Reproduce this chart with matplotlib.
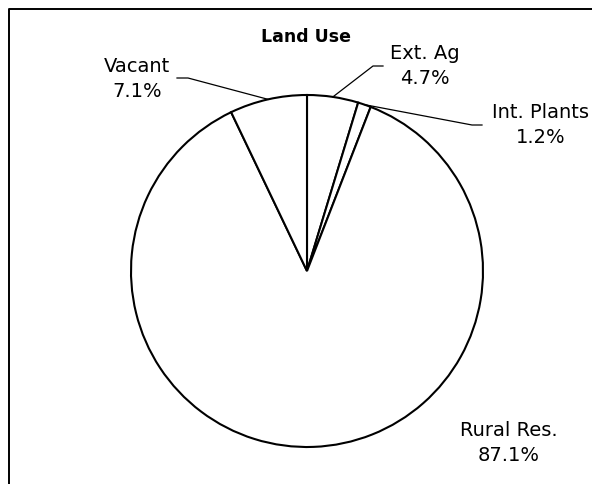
import numpy as np
import matplotlib
matplotlib.use("Agg")
from matplotlib import pyplot as plt

# land use shares (%), clockwise from 12 o'clock
labels = ["Ext. Ag", "Int. Plants", "Rural Res.", "Vacant"]
shares = [4.7, 1.2, 87.1, 7.1]

# label centres and leader elbows, in pixels from the top-left corner
label_pos = [(425, 66), (541, 125), (509, 443), (137, 79)]
leader_elbow = [((383, 67), (373, 67)), ((482, 126), (472, 126)), None, ((177, 79), (188, 79))]

W, H = 592, 485
fig = plt.figure(figsize=(W / 100, H / 100), dpi=100)
ax = fig.add_axes([0, 0, 1, 1])

cx, cy, r = 307, H - 272, 176
wedges, _ = ax.pie(shares, startangle=90, counterclock=False, center=(cx, cy), radius=r,
                   colors=["white"] * len(shares),
                   wedgeprops=dict(edgecolor="black", linewidth=1.5))
ax.set_xlim(0, W)
ax.set_ylim(0, H)
ax.set_aspect("equal")
ax.axis("off")

for w, lab, val, (px, py), elb in zip(wedges, labels, shares, label_pos, leader_elbow):
    ax.text(px, H - py, "%s\n%.1f%%" % (lab, val), ha="center", va="center",
            fontsize=14, linespacing=1.35, family="DejaVu Sans")
    if elb is None:
        continue
    mid = np.deg2rad((w.theta1 + w.theta2) / 2)
    ex, ey = cx + r * np.cos(mid), cy + r * np.sin(mid)
    (x0, y0), (x1, y1) = elb
    ax.plot([x0, x1, ex], [H - y0, H - y1, ey], color="black", lw=0.9)

ax.text(306, H - 37, "Land Use", ha="center", va="center", fontsize=12.5, fontweight="bold")

# chart border (runs off the right and bottom edges)
ax.plot([9, 9, W + 5], [-5, H - 9.5, H - 9.5], color="black", lw=1.4, clip_on=False)

fig.savefig("out.png", dpi=100)
